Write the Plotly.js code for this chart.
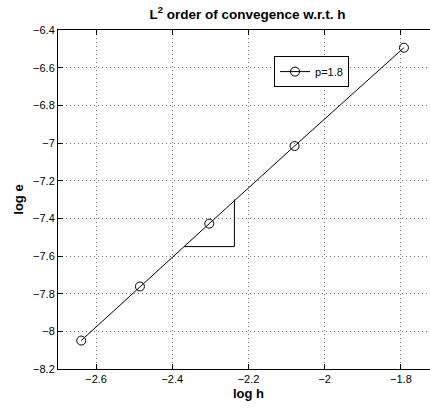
<!DOCTYPE html>
<html>
<head>
<meta charset="utf-8">
<script src="https://cdn.plot.ly/plotly-3.0.1.min.js"></script>
<style>
html,body{margin:0;padding:0;overflow:hidden;background:#fff;}
#chart{width:440px;height:411px;}
</style>
</head>
<body>
<div id="chart"></div>
<script>
// Data
const logH = [-2.639, -2.485, -2.303, -2.079, -1.792];
const logE = [-8.049, -7.762, -7.428, -7.016, -6.494];
const seriesName = 'p=1.8';
// slope triangle
const triX = [-2.369, -2.237, -2.237];
const triY = [-7.55, -7.55, -7.30];
const xTicks = [-2.6, -2.4, -2.2, -2, -1.8];
const yTicks = [-8.2, -8, -7.8, -7.6, -7.4, -7.2, -7, -6.8, -6.6, -6.4];

const font = 'Liberation Sans, Arial, Helvetica, sans-serif';

const traces = [
  {
    x: logH, y: logE, name: seriesName, type: 'scatter', mode: 'lines+markers',
    line: {color: '#000', width: 1},
    marker: {symbol: 'circle-open', size: 9, color: '#000', line: {width: 1, color: '#000'}}
  },
  {
    x: triX, y: triY, name: 'triangle', type: 'scatter', mode: 'lines', showlegend: false,
    line: {color: '#000', width: 1}, hoverinfo: 'skip'
  }
];

const axisCommon = {
  showline: true, linecolor: '#000', linewidth: 1, mirror: 'ticks',
  ticks: 'inside', ticklen: 5, tickcolor: '#000',
  showgrid: true, gridcolor: '#777', griddash: '1px,3px', gridwidth: 1,
  zeroline: false, tickfont: {family: font, size: 11, color: '#000'}
};

const layout = {
  width: 440, height: 411,
  margin: {l: 58, r: 1, t: 30, b: 42},
  paper_bgcolor: '#fff', plot_bgcolor: '#fff',
  title: {text: '<b>L<sup>2</sup> order of convegence w.r.t. h</b>', font: {family: font, size: 13.5, color: '#000'}, x: 0.5625, xanchor: 'center', y: 0.965, yanchor: 'middle'},
  xaxis: Object.assign({}, axisCommon, {
    range: [-2.7, -1.7], tickvals: xTicks, ticktext: xTicks.map(v => String(v).replace('-', '\u2212')),
    title: {text: '<b>log h</b>', font: {family: font, size: 13, color: '#000'}, standoff: 4}
  }),
  yaxis: Object.assign({}, axisCommon, {
    range: [-8.2, -6.4], tickvals: yTicks, ticktext: yTicks.map(v => String(v).replace('-', '\u2212')),
    title: {text: '<b>log e</b>', font: {family: font, size: 13, color: '#000'}, standoff: 6}
  }),
  showlegend: true,
  legend: {
    x: 0.567, y: 0.923, xanchor: 'left', yanchor: 'top',
    bordercolor: '#000', borderwidth: 1, bgcolor: '#fff',
    font: {family: font, size: 11, color: '#000'}
  }
};

Plotly.newPlot('chart', traces, layout, {displayModeBar: false, staticPlot: true});
</script>
</body>
</html>
